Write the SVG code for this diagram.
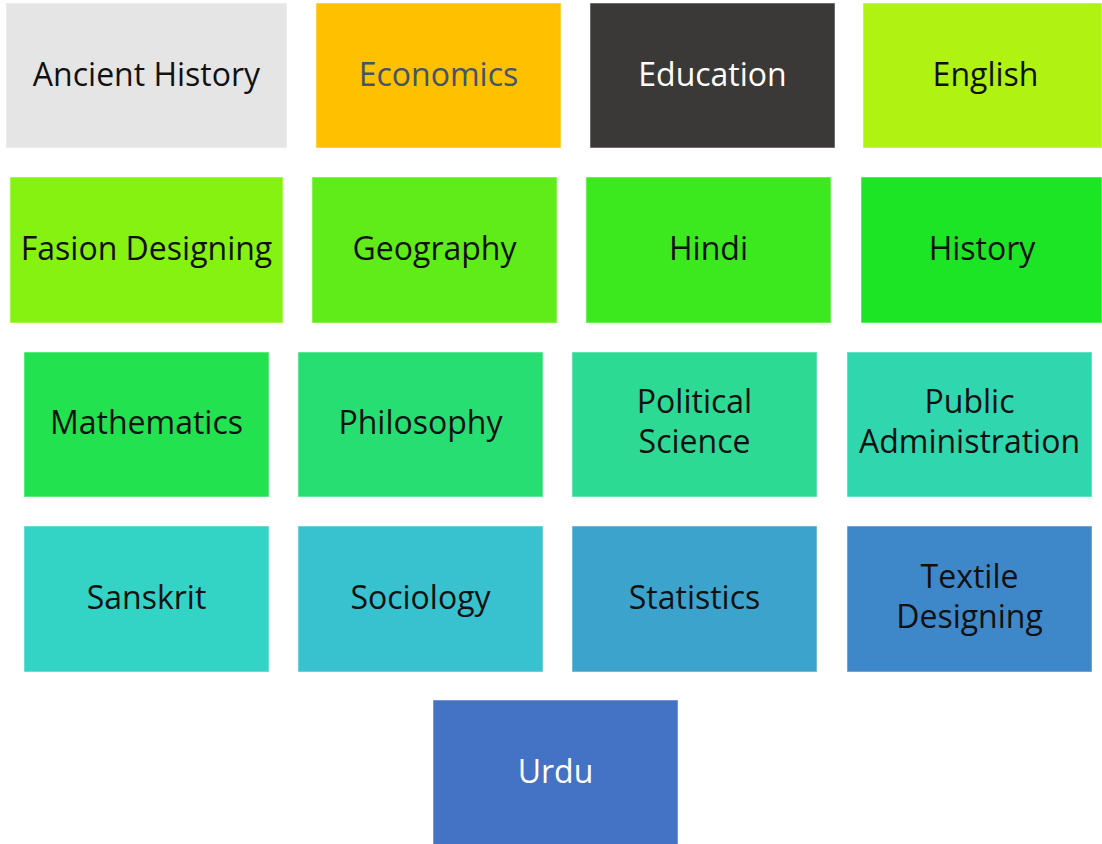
<svg xmlns="http://www.w3.org/2000/svg" width="1102" height="844" viewBox="0 0 1102 844">
<style>
rect{stroke:#ffffff;stroke-opacity:0.5;stroke-width:1}
text{font-family:"Open Sans","Noto Sans","Liberation Sans",sans-serif;font-size:32px;text-anchor:middle;fill:#111111}
.w{fill:#ffffff}
.s{fill:#44546A}
</style>
<rect width="1102" height="844" fill="#ffffff" style="stroke:none"/>
<g id="ancient-history"><rect x="6" y="3" width="281" height="145" fill="#E5E5E5"/><text x="146.5" y="86">Ancient History</text></g>
<g id="economics"><rect x="316" y="3" width="245" height="145" fill="#FFC000"/><text class="s" x="438.5" y="86">Economics</text></g>
<g id="education"><rect x="590" y="3" width="245" height="145" fill="#3B3838"/><text class="w" x="712.5" y="86">Education</text></g>
<g id="english"><rect x="863" y="3" width="239" height="145" fill="#B0F212"/><text x="985.5" y="86">English</text></g>
<g id="fasion-designing"><rect x="10" y="177" width="273" height="146" fill="#86F212"/><text x="146.5" y="260">Fasion Designing</text></g>
<g id="geography"><rect x="312" y="177" width="245" height="146" fill="#60EC18"/><text x="434.5" y="260">Geography</text></g>
<g id="hindi"><rect x="586" y="177" width="245" height="146" fill="#3BE91E"/><text x="708.5" y="260">Hindi</text></g>
<g id="history"><rect x="861" y="177" width="241" height="146" fill="#1CE526"/><text x="982" y="260">History</text></g>
<g id="mathematics"><rect x="24" y="352" width="245" height="145" fill="#22E250"/><text x="146.5" y="434">Mathematics</text></g>
<g id="philosophy"><rect x="298" y="352" width="245" height="145" fill="#27DE72"/><text x="420.5" y="434">Philosophy</text></g>
<g id="political-science"><rect x="572" y="352" width="245" height="145" fill="#2CDA93"/><text x="694.5" y="413">Political</text><text x="694.5" y="453">Science</text></g>
<g id="public-administration"><rect x="847" y="352" width="245" height="145" fill="#30D6AE"/><text x="969.5" y="413">Public</text><text x="969.5" y="453">Administration</text></g>
<g id="sanskrit"><rect x="24" y="526" width="245" height="146" fill="#33D3C6"/><text x="146.5" y="609">Sanskrit</text></g>
<g id="sociology"><rect x="298" y="526" width="245" height="146" fill="#38C1CF"/><text x="420.5" y="609">Sociology</text></g>
<g id="statistics"><rect x="572" y="526" width="245" height="146" fill="#3CA3CC"/><text x="694.5" y="609">Statistics</text></g>
<g id="textile-designing"><rect x="847" y="526" width="245" height="146" fill="#3E87C8"/><text x="969.5" y="588">Textile</text><text x="969.5" y="628">Designing</text></g>
<g id="urdu"><rect x="433" y="700" width="245" height="145" fill="#4472C4"/><text class="w" x="555.5" y="783">Urdu</text></g>
<g id="connectors"/>
</svg>
